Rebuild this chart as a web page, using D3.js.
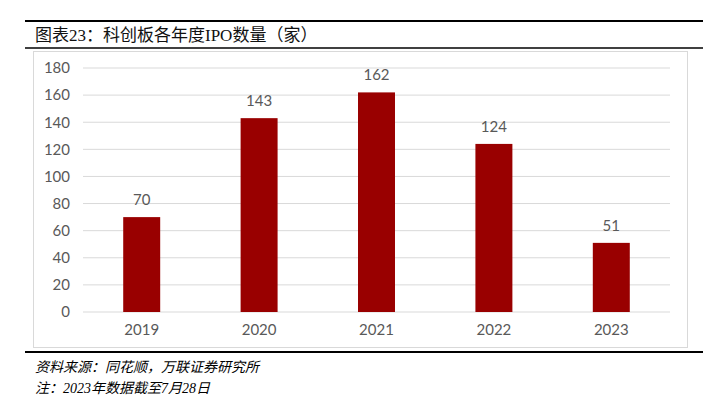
<!DOCTYPE html>
<html>
<head>
<meta charset="utf-8">
<script src="https://cdn.jsdelivr.net/npm/d3@7"></script>
<style>
  body { margin: 0; background: #fff; }
  svg { display: block; }
</style>
</head>
<body>
<div id="chart"></div>
<script>
// data
var years = ["2019", "2020", "2021", "2022", "2023"];
var ipoCounts = [70, 143, 162, 124, 51];
var yTicks = [0, 20, 40, 60, 80, 100, 120, 140, 160, 180];

var svgWidth = 703;
var svgHeight = 396;

var svg = d3.select("#chart")
  .append("svg")
  .attr("width", svgWidth)
  .attr("height", svgHeight);

var cjkSerif = "'Liberation Serif', 'Noto Sans CJK SC', serif";
var numFont = "Lato, 'Open Sans', sans-serif";

// title block lines
svg.append("line")
  .attr("x1", 25).attr("x2", 703).attr("y1", 21).attr("y2", 21)
  .attr("stroke", "#000").attr("stroke-width", 2);
svg.append("line")
  .attr("x1", 25).attr("x2", 703).attr("y1", 48).attr("y2", 48)
  .attr("stroke", "#000").attr("stroke-width", 1.5);

svg.append("text")
  .attr("x", 35).attr("y", 41)
  .style("font-family", cjkSerif)
  .style("font-size", "17px")
  .style("fill", "#111")
  .text("图表23：科创板各年度IPO数量（家）");

// chart frame
svg.append("rect")
  .attr("x", 33.5).attr("y", 51.5)
  .attr("width", 654).attr("height", 296)
  .attr("fill", "#fff")
  .attr("stroke", "#d9d9d9");

var margin = { left: 83, right: 33, top: 68, bottom: 84 };
var width = svgWidth - margin.left - margin.right;   // 587
var yBottom = 312;

var x = d3.scaleBand()
  .domain(years)
  .range([margin.left, margin.left + width])
  .paddingInner(0.685)
  .paddingOuter(0.3425);

var y = d3.scaleLinear()
  .domain([0, 180])
  .range([yBottom, 68]);

// gridlines
svg.append("g")
  .selectAll("line")
  .data(yTicks)
  .enter()
  .append("line")
  .attr("x1", margin.left)
  .attr("x2", margin.left + width)
  .attr("y1", d => y(d))
  .attr("y2", d => y(d))
  .attr("stroke", "#d9d9d9")
  .attr("stroke-width", 1);

// y axis labels
var leftAxis = d3.axisLeft(y).tickValues(yTicks).tickSize(0).tickPadding(0);
var yg = svg.append("g")
  .attr("transform", "translate(70,0)")
  .call(leftAxis);
yg.select(".domain").remove();
yg.selectAll("text")
  .style("font-family", numFont)
  .style("font-size", "15px")
  .style("fill", "#595959");

// x axis labels
var bottomAxis = d3.axisBottom(x).tickSize(0).tickPadding(0);
var xg = svg.append("g")
  .attr("transform", "translate(0," + (yBottom + 12) + ")")
  .call(bottomAxis);
xg.select(".domain").remove();
xg.selectAll("text")
  .style("font-family", numFont)
  .style("font-size", "15px")
  .style("fill", "#595959");

// bars
svg.append("g")
  .selectAll("rect")
  .data(years)
  .enter()
  .append("rect")
  .attr("x", d => x(d))
  .attr("y", (d, i) => y(ipoCounts[i]))
  .attr("width", x.bandwidth())
  .attr("height", (d, i) => yBottom - y(ipoCounts[i]))
  .attr("fill", "#990000");

// value labels
svg.append("g")
  .selectAll("text")
  .data(years)
  .enter()
  .append("text")
  .attr("x", d => x(d) + x.bandwidth() / 2)
  .attr("y", (d, i) => y(ipoCounts[i]) - 12)
  .attr("text-anchor", "middle")
  .style("font-family", numFont)
  .style("font-size", "15px")
  .style("fill", "#595959")
  .text((d, i) => ipoCounts[i]);

// bottom rule and notes
svg.append("line")
  .attr("x1", 25).attr("x2", 703).attr("y1", 352).attr("y2", 352)
  .attr("stroke", "#000").attr("stroke-width", 2);

svg.append("text")
  .attr("x", 35).attr("y", 372)
  .style("font-family", cjkSerif)
  .style("font-style", "italic")
  .style("font-size", "14px")
  .style("fill", "#000")
  .text("资料来源：同花顺，万联证券研究所");

svg.append("text")
  .attr("x", 35).attr("y", 393)
  .style("font-family", cjkSerif)
  .style("font-style", "italic")
  .style("font-size", "14px")
  .style("fill", "#000")
  .text("注：2023年数据截至7月28日");
</script>
</body>
</html>
